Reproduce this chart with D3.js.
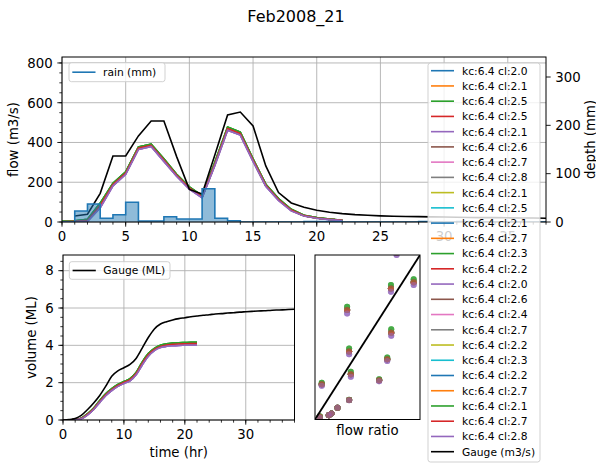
<!DOCTYPE html>
<html><head><meta charset="utf-8">
<script src="https://cdn.jsdelivr.net/npm/d3@7"></script>
<style>
body{margin:0;background:#fff}
svg{display:block}
text{font-family:"DejaVu Sans",sans-serif;fill:#000}
</style>
</head><body>
<svg id="c" width="596" height="464"></svg>
<script>
// ---------------- data ----------------
const chartTitle = "Feb2008_21";
const tab10 = ["#1f77b4","#ff7f0e","#2ca02c","#d62728","#9467bd","#8c564b","#e377c2","#7f7f7f","#bcbd22","#17becf"];

// rain depth (mm) per hour starting at hour index
const rainHours = [0,1,2,3,4,5,6,7,8,9,10,11,12,13,14,15,16,17,18,19,20,21,22,23,24,25,26,27,28,29,30,31,32,33,34,35,36,37];
const rainDepth = [0,22.8,37.2,7.7,15.1,40.8,2.1,2.1,11,6.2,6.2,68.9,7.7,2.7,0,0,0,0,0,1,1,1,0,0,0,0,0,0,1,0,0,1,0,0,0,0,0,0];

// gauge flow (m3/s)
const gaugeHours = [1,2,3,4,5,6,7,8,9,10,11,12,13,14,15,16,17,18,19,20,21,22,23,24,25,26,27,28,29,30,31,32,33,34,35,36,37,38];
const gaugeFlow  = [30,39,144,332,332,433,508,508,329,164,141,337,538,553,483,282,148,96,74,59,49,42,37,34,31,29,28,27,26,25,24,23,22,22,21,20,20,19];

// modelled flow (m3/s), three families of runs
const modelHours = [0,1,2,3,4,5,6,7,8,9,10,11,12,13,14,15,16,17,18,19,20,21,22];
const flowHigh = [3,6,14,95,195,252,378,392,318,240,177,132,300,478,452,318,190,118,64,34,22,15,9];
const flowMid  = [1,4,8,84,189,246,372,386,312,235,171,127,292,470,445,312,185,113,60,32,20,13,8];
const flowLow  = [0,1,3,72,182,240,365,380,305,230,165,122,285,462,437,305,180,108,56,30,19,12,7];

// cumulative volume (ML)
const volHours = [0,1,2,3,4,5,6,7,8,9,10,11,12,13,14,15,16,17,18,19,20,21,22,23,24,25,26,27,28,29,30,31,32,33,34,35,36,37,38];
const gaugeVol = [0,0.02,0.08,0.25,0.55,0.9,1.3,1.8,2.35,2.63,2.8,2.98,3.3,3.85,4.42,4.88,5.14,5.27,5.36,5.43,5.48,5.53,5.57,5.61,5.64,5.68,5.7,5.73,5.75,5.78,5.8,5.82,5.84,5.85,5.87,5.89,5.9,5.92,5.93];
const volHigh = [0,0.01,0.03,0.1,0.33,0.63,1.03,1.4,1.68,1.9,2.06,2.22,2.55,3.1,3.56,3.84,4.0,4.08,4.12,4.14,4.15,4.16,4.16];
const volMid  = [0,0.01,0.02,0.08,0.3,0.59,0.98,1.35,1.63,1.85,2.01,2.16,2.49,3.03,3.49,3.78,3.94,4.02,4.05,4.07,4.08,4.09,4.09];
const volLow  = [0,0,0.01,0.06,0.26,0.55,0.93,1.3,1.58,1.8,1.96,2.1,2.42,2.95,3.42,3.72,3.88,3.95,3.98,4.0,4.01,4.02,4.02];

// flow-ratio scatter
const ratioX    = [0.777,0.723,0.94,0.306,0.726,0.325,0.688,0.341,0.064,0.611,0.325,0.214,0.157,0.131,0.045];
const ratioHigh = [1.03,0.817,0.852,0.685,0.548,0.432,0.377,0.29,0.223,0.245,0.12,0.071,0.037,0.026,0.02];
const ratioMid  = [1.015,0.797,0.835,0.665,0.528,0.414,0.366,0.275,0.214,0.239,0.118,0.071,0.037,0.026,0.016];
const ratioLow  = [1.0,0.777,0.817,0.645,0.509,0.396,0.355,0.26,0.205,0.233,0.117,0.071,0.037,0.026,0.012];

// runs
const runCl = ["2.0","2.1","2.5","2.5","2.1","2.6","2.7","2.8","2.1","2.5","2.1","2.7","2.3","2.2","2.0","2.6","2.4","2.7","2.2","2.3","2.2","2.7","2.1","2.7","2.8"];
const runFamily = [1,1,0,1,2,1,1,1,1,1,1,1,0,1,2,1,1,1,1,1,1,1,0,1,2];

// ticks
const flowTicks = [0,200,400,600,800];
const depthTicks = [0,100,200,300];
const topXTicks = [0,5,10,15,20,25,30,35];
const volTicks = [0,2,4,6,8];
const botXTicks = [0,10,20,30];

// ---------------- drawing ----------------
const flowFam = [flowHigh, flowMid, flowLow];
const volFam = [volHigh, volMid, volLow];
const ratioFam = [ratioHigh, ratioMid, ratioLow];

const svg = d3.select("#c");
const defs = svg.append("defs");
function clip(id, A){ defs.append("clipPath").attr("id",id).append("rect").attr("x",A.l).attr("y",A.t).attr("width",A.r-A.l).attr("height",A.b-A.t); }

const TK = 4.67, TKm = 2.67, PAD = 4.67, FS = 13.3, LFS = 10.7;

function ticksX(A, scale, major, minor){
  const g = svg.append("g");
  minor.forEach(v=>g.append("line").attr("x1",scale(v)).attr("x2",scale(v)).attr("y1",A.b).attr("y2",A.b+TKm).attr("stroke","#000").attr("stroke-width",0.8));
  major.forEach(v=>{
    g.append("line").attr("x1",scale(v)).attr("x2",scale(v)).attr("y1",A.b).attr("y2",A.b+TK).attr("stroke","#000").attr("stroke-width",0.9);
    g.append("text").attr("x",scale(v)).attr("y",A.b+TK+PAD+9.6).attr("text-anchor","middle").style("font-size",FS+"px").text(v);
  });
}
function ticksY(A, scale, major, minor, side){
  const g = svg.append("g");
  const x0 = side==="left"?A.l:A.r, s = side==="left"?-1:1;
  minor.forEach(v=>g.append("line").attr("x1",x0).attr("x2",x0+s*TKm).attr("y1",scale(v)).attr("y2",scale(v)).attr("stroke","#000").attr("stroke-width",0.8));
  major.forEach(v=>{
    g.append("line").attr("x1",x0).attr("x2",x0+s*TK).attr("y1",scale(v)).attr("y2",scale(v)).attr("stroke","#000").attr("stroke-width",0.9);
    g.append("text").attr("x",x0+s*(TK+PAD)).attr("y",scale(v)+4.8).attr("text-anchor",side==="left"?"end":"start").style("font-size",FS+"px").text(v);
  });
}
function grid(A, xs, xv, ys, yv){
  const g = svg.append("g");
  xv.forEach(v=>g.append("line").attr("x1",xs(v)).attr("x2",xs(v)).attr("y1",A.t).attr("y2",A.b).attr("stroke","#b0b0b0").attr("stroke-width",0.9));
  yv.forEach(v=>g.append("line").attr("x1",A.l).attr("x2",A.r).attr("y1",ys(v)).attr("y2",ys(v)).attr("stroke","#b0b0b0").attr("stroke-width",0.9));
}
function frame(A){
  svg.append("rect").attr("x",A.l).attr("y",A.t).attr("width",A.r-A.l).attr("height",A.b-A.t).attr("fill","none").attr("stroke","#000").attr("stroke-width",1);
}
function vlabel(x, y, t){
  svg.append("text").attr("transform",`translate(${x},${y}) rotate(-90)`).attr("text-anchor","middle").style("font-size",FS+"px").text(t);
}

// title
svg.append("text").attr("x",296).attr("y",21.5).attr("text-anchor","middle").style("font-size","16px").text(chartTitle);

// ===== top axes =====
const T = {l:62, r:546, t:57, b:222};
clip("cT", T);
const xT = d3.scaleLinear().domain([0,38]).range([T.l,T.r]);
const yF = d3.scaleLinear().domain([0,830]).range([T.b,T.t]);
const yD = d3.scaleLinear().domain([0,341.4]).range([T.b,T.t]);
grid(T, xT, topXTicks, yF, flowTicks);

const gT = svg.append("g").attr("clip-path","url(#cT)");
const lineF = d3.line().x(d=>xT(d[0])).y(d=>yF(d[1]));
runFamily.forEach((f,i)=>{
  gT.append("path").attr("d", lineF(modelHours.map((h,k)=>[h, flowFam[f][k]])))
    .attr("fill","none").attr("stroke",tab10[i%10]).attr("stroke-width",1.6);
});
gT.append("path").attr("d", lineF(gaugeHours.map((h,k)=>[h, gaugeFlow[k]])))
  .attr("fill","none").attr("stroke","#000").attr("stroke-width",1.6);

// rain (step)
const rainPts = rainHours.map((h,k)=>[h, rainDepth[k]]).concat([[38, rainDepth[rainDepth.length-1]]]);
gT.append("path").attr("d", d3.area().curve(d3.curveStepAfter).x(d=>xT(d[0])).y0(yD(0)).y1(d=>yD(d[1]))(rainPts))
  .attr("fill","#1f77b4").attr("fill-opacity",0.5);
gT.append("path").attr("d", d3.line().curve(d3.curveStepAfter).x(d=>xT(d[0])).y(d=>yD(d[1]))(rainPts))
  .attr("fill","none").attr("stroke","#1f77b4").attr("stroke-width",1.6);

frame(T);
ticksX(T, xT, topXTicks, d3.range(0,39,1));
ticksY(T, yF, flowTicks, d3.range(0,831,50), "left");
ticksY(T, yD, depthTicks, [], "right");
vlabel(18, (T.t+T.b)/2, "flow (m3/s)");
vlabel(594.5, (T.t+T.b)/2, "depth (mm)");

// rain legend
function smallLegend(x, y, w, h, color, label){
  svg.append("rect").attr("x",x).attr("y",y).attr("width",w).attr("height",h).attr("rx",2.5)
    .attr("fill","#fff").attr("fill-opacity",0.8).attr("stroke","#cccccc").attr("stroke-width",0.9);
  svg.append("line").attr("x1",x+3.3).attr("x2",x+26.5).attr("y1",y+h/2).attr("y2",y+h/2).attr("stroke",color).attr("stroke-width",1.6);
  svg.append("text").attr("x",x+34).attr("y",y+h/2+3.9).style("font-size",LFS+"px").text(label);
}
smallLegend(69, 62.7, 96, 19, "#1f77b4", "rain (mm)");

// ===== bottom-left volume axes =====
const B = {l:63, r:294.5, t:255, b:420};
clip("cB", B);
const xB = d3.scaleLinear().domain([0,38]).range([B.l,B.r]);
const yV = d3.scaleLinear().domain([0,8.84]).range([B.b,B.t]);
grid(B, xB, botXTicks, yV, volTicks);
const gB = svg.append("g").attr("clip-path","url(#cB)");
const lineV = d3.line().curve(d3.curveMonotoneX).x(d=>xB(d[0])).y(d=>yV(d[1]));
runFamily.forEach((f,i)=>{
  gB.append("path").attr("d", lineV(modelHours.map((h,k)=>[h, volFam[f][k]])))
    .attr("fill","none").attr("stroke",tab10[i%10]).attr("stroke-width",1.6);
});
gB.append("path").attr("d", lineV(volHours.map((h,k)=>[h, gaugeVol[k]])))
  .attr("fill","none").attr("stroke","#000").attr("stroke-width",1.6);
frame(B);
ticksX(B, xB, botXTicks, d3.range(0,39,2));
ticksY(B, yV, volTicks, d3.range(0,8.8,0.5), "left");
vlabel(36, (B.t+B.b)/2, "volume (ML)");
svg.append("text").attr("x",(B.l+B.r)/2).attr("y",456.5).attr("text-anchor","middle").style("font-size",FS+"px").text("time (hr)");
smallLegend(69.3, 261.7, 100.7, 17.6, "#000", "Gauge (ML)");

// ===== scatter axes =====
const S = {l:315, r:420, t:255, b:419.5};
clip("cS", S);
const xS = d3.scaleLinear().domain([0,1]).range([S.l,S.r]);
const yS = d3.scaleLinear().domain([0,1]).range([S.b,S.t]);
const gS = svg.append("g").attr("clip-path","url(#cS)");
runFamily.forEach((f,i)=>{
  ratioX.forEach((rx,k)=>{
    gS.append("circle").attr("cx",xS(rx)).attr("cy",yS(ratioFam[f][k])).attr("r",3)
      .attr("fill",tab10[i%10]).attr("fill-opacity",0.5);
  });
});
gS.append("line").attr("x1",xS(0)).attr("y1",yS(0)).attr("x2",xS(1)).attr("y2",yS(1)).attr("stroke","#000").attr("stroke-width",1.8);
frame(S);
svg.append("text").attr("x",(S.l+S.r)/2).attr("y",435).attr("text-anchor","middle").style("font-size",FS+"px").text("flow ratio");

// ===== big legend =====
const Lg = {x:428, y:63, w:112, h:399};
svg.append("rect").attr("x",Lg.x).attr("y",Lg.y).attr("width",Lg.w).attr("height",Lg.h).attr("rx",2.5)
  .attr("fill","#fff").attr("fill-opacity",0.8).attr("stroke","#cccccc").attr("stroke-width",0.9);
const entries = runCl.map((c,i)=>({label:"kc:6.4 cl:"+c, color:tab10[i%10]})).concat([{label:"Gauge (m3/s)", color:"#000"}]);
entries.forEach((e,i)=>{
  const y = 70.7 + i*15.24;
  svg.append("line").attr("x1",431).attr("x2",454).attr("y1",y).attr("y2",y).attr("stroke",e.color).attr("stroke-width",1.6);
  svg.append("text").attr("x",462).attr("y",y+3.9).style("font-size",LFS+"px").text(e.label);
});
</script>
</body></html>
